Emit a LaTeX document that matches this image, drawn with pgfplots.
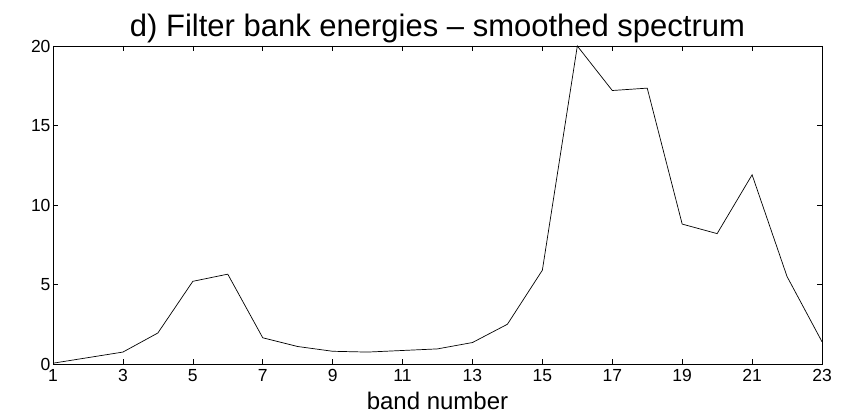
\documentclass[border=0pt]{standalone}
\usepackage{pgfplots}
\pgfplotsset{compat=1.18}
\usepackage{fontspec}
\setmainfont{Liberation Sans}
\begin{document}
\begin{tikzpicture}
\begin{axis}[
  scale only axis,
  width=769pt, height=318pt,
  xmin=1, xmax=23, ymin=0, ymax=20,
  xtick={1,3,...,23},
  ytick={0,5,10,15,20},
  tick align=inside,
  tick pos=both,
  major tick length=5pt,
  axis line style={line width=0.9pt},
  tick style={line width=0.6pt, black},
  ticklabel style={font=\fontsize{17.5}{20}\selectfont},
  /pgf/number format/assume math mode=true,
  title={d) Filter bank energies -- smoothed spectrum},
  title style={font=\fontsize{31}{35}\selectfont, yshift=-6pt},
  xlabel={band number},
  xlabel style={font=\fontsize{24}{28}\selectfont, yshift=-3pt},
  xticklabel style={yshift=-2pt},
  yticklabel style={xshift=1pt},
]
\addplot[black, line width=0.7pt] coordinates {
(1,0.05) (2,0.4) (3,0.75) (4,1.95) (5,5.2) (6,5.65) (7,1.65) (8,1.1) (9,0.8) (10,0.75) (11,0.85) (12,0.95) (13,1.35) (14,2.5) (15,5.9) (16,20) (17,17.2) (18,17.35) (19,8.8) (20,8.2) (21,11.9) (22,5.5) (23,1.4)
};
\end{axis}
\path (-53pt,-53pt) (790pt,364pt);
\end{tikzpicture}
\end{document}
